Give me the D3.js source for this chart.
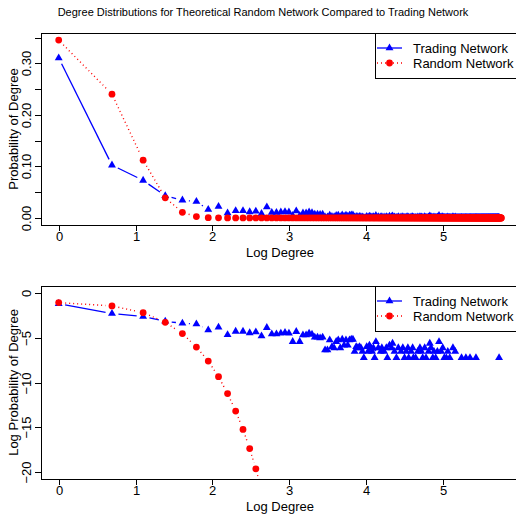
<!DOCTYPE html>
<html>
<head>
<meta charset="utf-8">
<script src="https://cdn.jsdelivr.net/npm/d3@7"></script>
<style>
  body { margin: 0; background: #fff; }
  text { font-family: "Liberation Sans", Arial, sans-serif; }
</style>
</head>
<body>
<div id="chart"></div>
<script>
// trading network: observed degrees and log probability of each
var tradingDegree = [1, 2, 3, 4, 5, 6, 7, 8, 9, 10,
  11, 12, 13, 14, 15, 16, 17, 18, 19, 20,
  21, 22, 23, 24, 25, 26, 27, 28, 29, 30,
  31, 32, 33, 34, 35, 36, 37, 38, 39, 40,
  41, 42, 43, 44, 45, 46, 47, 48, 49, 50,
  51, 52, 53, 55, 56, 57, 58, 59, 60, 61,
  62, 64, 66, 67, 69, 71, 72, 74, 76, 77,
  79, 81, 83, 86, 88, 90, 92, 94, 95, 98,
  100, 101, 104, 107, 110, 112, 114, 117, 119, 123,
  125, 127, 130, 132, 135, 138, 141, 145, 148, 151,
  155, 158, 162, 169, 174, 189, 200, 211, 228, 308];
var tradingLogProb = [-1.17, -2.28, -2.62, -3.15, -3.37, -3.45, -4.12, -3.82, -4.65, -4.28,
  -4.28, -4.45, -4.35, -4.80, -3.86, -4.57, -4.57, -4.49, -4.42, -4.49,
  -5.43, -4.31, -5.43, -4.68, -4.68, -4.49, -4.62, -4.94, -4.94, -5.03,
  -4.94, -6.37, -6.37, -5.25, -6.00, -6.13, -5.43, -5.25, -6.13, -5.18,
  -5.84, -5.25, -5.84, -5.25, -5.18, -5.18, -6.54, -6.00, -6.13, -6.00,
  -6.13, -6.54, -7.23, -6.00, -6.54, -5.84, -6.13, -6.54, -6.13, -7.23,
  -5.44, -6.13, -6.54, -6.13, -6.54, -6.13, -7.23, -5.84, -6.13, -5.62,
  -6.54, -7.23, -6.13, -6.54, -6.13, -7.23, -6.54, -6.13, -7.23, -6.54,
  -6.13, -7.23, -7.23, -6.54, -6.13, -6.54, -7.23, -6.13, -7.23, -6.54,
  -5.62, -6.13, -7.23, -6.54, -7.23, -6.54, -5.44, -6.54, -6.13, -7.23,
  -7.23, -6.54, -7.23, -6.13, -6.54, -7.23, -7.23, -7.23, -7.23, -7.23];

// theoretical random network, degree 1, 2, 3, ...
var randomLogProb = [-1.06, -1.43, -2.18, -3.26, -4.53, -6.03, -7.60, -9.35, -11.24, -13.20,
  -15.25, -17.40, -19.66, -21.97];
var randomProb = [0.345, 0.240, 0.112, 0.039, 0.0108, 0.0025, 0.0005, 0.0001];
var randomMaxDegree = 317; // every degree after the listed ones is ~0

var yTicksTop = [0, 0.05, 0.10, 0.15, 0.20, 0.25, 0.30, 0.35];
var yLabelsTop = ["0.00", "", "0.10", "", "0.20", "", "0.30", ""];
var yTicksBottom = [0, -5, -10, -15, -20];
var xTicks = [0, 1, 2, 3, 4, 5];

var seriesNames = ["Trading Network", "Random Network"];
var titleText = "Degree Distributions for Theoretical Random Network Compared to Trading Network";

var W = 516, H = 514;
var svg = d3.select("#chart").append("svg")
  .attr("width", W).attr("height", H)
  .style("background", "#fff");

svg.append("text")
  .attr("x", 263).attr("y", 16)
  .attr("text-anchor", "middle")
  .attr("font-size", 11)
  .text(titleText);

// probability of every degree 1..max; degrees not seen have probability 0
var tradingMax = d3.max(tradingDegree);
var tradingTop = d3.range(1, tradingMax + 1).map(function(k) {
  var i = tradingDegree.indexOf(k);
  return [Math.log(k), i < 0 ? 0 : Math.exp(tradingLogProb[i]), k];
});
// log of 0 is -Inf, so only observed degrees go in the log plot
var tradingBottom = tradingDegree.map(function(k, i) { return [Math.log(k), tradingLogProb[i], k]; });
var randomTop = d3.range(1, randomMaxDegree + 1).map(function(k) {
  return [Math.log(k), k <= randomProb.length ? randomProb[k - 1] : 0, k];
});
var randomBottom = randomLogProb.map(function(v, i) { return [Math.log(i + 1), v, i + 1]; });

function padded(lo, hi) {
  var p = (hi - lo) * 0.04;
  return [lo - p, hi + p];
}

var xDomain = padded(0, Math.log(randomMaxDegree));
var left = 41, right = 519;

// segments between neighbouring degrees, with gaps round the points (type="b")
function gappedLine(g, pts, x, y, gap, color, dash) {
  for (var i = 0; i < pts.length - 1; i++) {
    if (pts[i + 1][2] !== pts[i][2] + 1) continue; // missing degree breaks the line
    var x0 = x(pts[i][0]), y0 = y(pts[i][1]);
    var x1 = x(pts[i + 1][0]), y1 = y(pts[i + 1][1]);
    var dx = x1 - x0, dy = y1 - y0;
    var len = Math.sqrt(dx * dx + dy * dy);
    if (len <= 2 * gap) continue;
    var ux = dx / len, uy = dy / len;
    g.append("line")
      .attr("x1", x0 + ux * gap).attr("y1", y0 + uy * gap)
      .attr("x2", x1 - ux * gap).attr("y2", y1 - uy * gap)
      .attr("stroke", color)
      .attr("stroke-width", dash ? 1.4 : 1.3)
      .attr("stroke-dasharray", dash);
  }
}

var tri = d3.symbol().type(d3.symbolTriangle).size(27);

function panel(opts) {
  var top = opts.top, bottom = opts.bottom;
  var x = d3.scaleLinear().domain(xDomain).range([left, right]);
  var y = d3.scaleLinear().domain(padded(opts.ymin, opts.ymax)).range([bottom, top]);

  var clipId = "clip" + opts.id;
  svg.append("clipPath").attr("id", clipId)
    .append("rect").attr("x", left).attr("y", top)
    .attr("width", right - left).attr("height", bottom - top);

  var plot = svg.append("g").attr("clip-path", "url(#" + clipId + ")");

  gappedLine(plot, opts.trading, x, y, 6.5, "#0000ff", null);

  plot.selectAll("path.tri").data(opts.trading).enter().append("path")
    .attr("class", "tri")
    .attr("d", tri)
    .attr("transform", function(d) { return "translate(" + x(d[0]) + "," + y(d[1]) + ")"; })
    .attr("fill", "#0000ff");

  gappedLine(plot, opts.random, x, y, 6.5, "#ff0000", "1,3");

  plot.selectAll("circle").data(opts.random).enter().append("circle")
    .attr("cx", function(d) { return x(d[0]); })
    .attr("cy", function(d) { return y(d[1]); })
    .attr("r", 3.4)
    .attr("fill", "#ff0000");

  // box
  svg.append("rect")
    .attr("x", left + 0.5).attr("y", top + 0.5)
    .attr("width", right - left).attr("height", bottom - top)
    .attr("fill", "none").attr("stroke", "#000").attr("stroke-width", 1);

  // x axis
  var xa = svg.append("g");
  xTicks.forEach(function(t) {
    var px = Math.round(x(t)) + 0.5;
    xa.append("line").attr("x1", px).attr("x2", px)
      .attr("y1", bottom).attr("y2", bottom + 6).attr("stroke", "#000");
    xa.append("text").attr("x", px).attr("y", bottom + 16)
      .attr("text-anchor", "middle").attr("font-size", 13).text(t);
  });
  svg.append("text").attr("x", (left + right) / 2).attr("y", bottom + 32)
    .attr("text-anchor", "middle").attr("font-size", 13).text("Log Degree");

  // y axis
  var ya = svg.append("g");
  opts.yTicks.forEach(function(t, i) {
    var py = Math.round(y(t)) + 0.5;
    ya.append("line").attr("x1", left - 6).attr("x2", left)
      .attr("y1", py).attr("y2", py).attr("stroke", "#000");
    ya.append("text")
      .attr("transform", "translate(31," + py + ") rotate(-90)")
      .attr("text-anchor", "middle").attr("font-size", 13)
      .text(opts.yLabels[i]);
  });
  svg.append("text")
    .attr("transform", "translate(17.5," + (top + bottom) / 2 + ") rotate(-90)")
    .attr("text-anchor", "middle").attr("font-size", 13)
    .text(opts.ylab);

  // legend
  var lg = svg.append("g");
  lg.append("rect")
    .attr("x", 375.5).attr("y", top + 0.5)
    .attr("width", right - 375).attr("height", 45)
    .attr("fill", "#fff").attr("stroke", "#000");
  var rows = [top + 15, top + 30];
  lg.append("line").attr("x1", 377).attr("x2", 402)
    .attr("y1", rows[0]).attr("y2", rows[0])
    .attr("stroke", "#0000ff").attr("stroke-width", 1.3);
  lg.append("path").attr("d", tri)
    .attr("transform", "translate(389.5," + rows[0] + ")")
    .attr("fill", "#0000ff");
  lg.append("line").attr("x1", 377).attr("x2", 402)
    .attr("y1", rows[1]).attr("y2", rows[1])
    .attr("stroke", "#ff0000").attr("stroke-width", 1.4)
    .attr("stroke-dasharray", "1,3");
  lg.append("circle").attr("cx", 389.5).attr("cy", rows[1]).attr("r", 3.4)
    .attr("fill", "#ff0000");
  seriesNames.forEach(function(n, i) {
    lg.append("text").attr("x", 413).attr("y", rows[i] + 4.5)
      .attr("font-size", 13).text(n);
  });
}

panel({
  id: "top", top: 33, bottom: 225,
  ymin: 0, ymax: 0.345,
  trading: tradingTop, random: randomTop,
  yTicks: yTicksTop, yLabels: yLabelsTop,
  ylab: "Probability of Degree"
});

panel({
  id: "bottom", top: 286, bottom: 479,
  ymin: -20, ymax: 0,
  trading: tradingBottom, random: randomBottom,
  yTicks: yTicksBottom,
  yLabels: yTicksBottom.map(function(t) { return t < 0 ? "\u2212" + Math.abs(t) : String(t); }),
  ylab: "Log Probability of Degree"
});
</script>
</body>
</html>
